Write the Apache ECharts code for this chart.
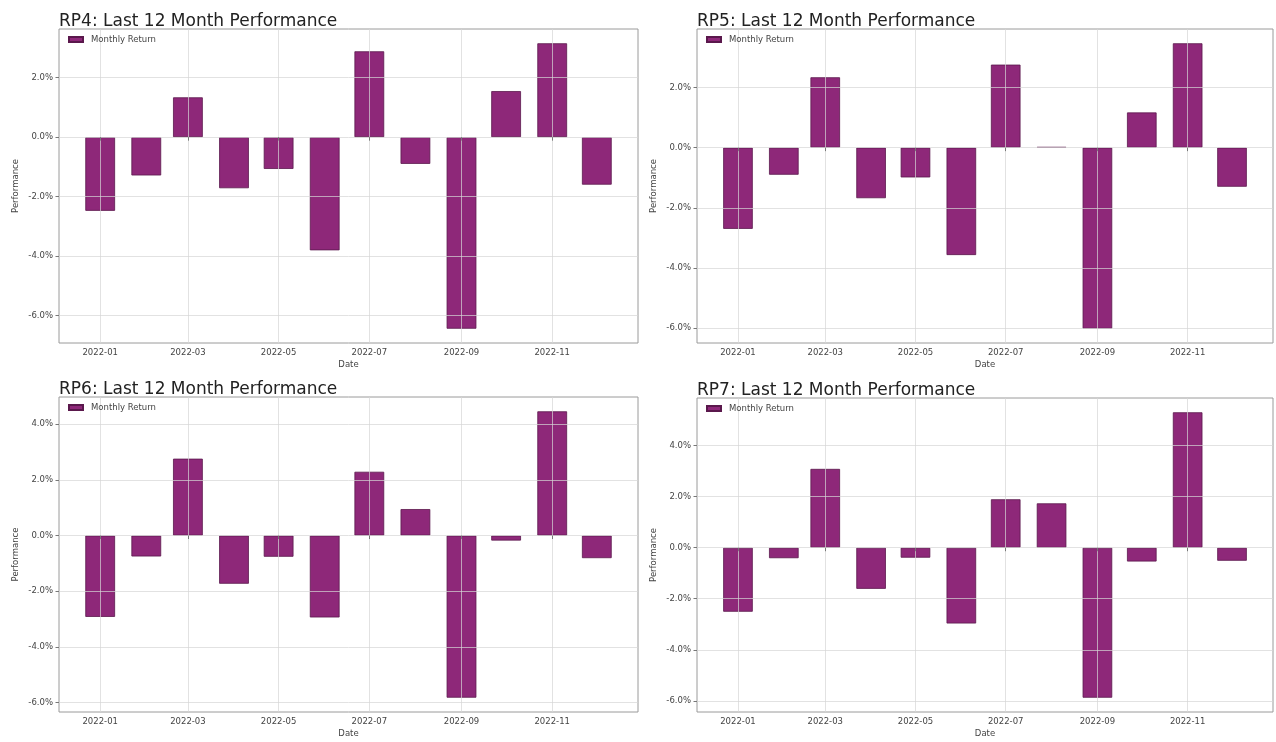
<!DOCTYPE html>
<html>
<head>
<meta charset="utf-8">
<script src="https://cdn.jsdelivr.net/npm/echarts@6/dist/echarts.min.js"></script>
<style>
html,body{margin:0;padding:0;background:#fff;}
#chart{width:1276px;height:742px;}
</style>
</head>
<body>
<div id="chart"></div>
<script>
// ---- data ----
const months = ['2022-01-01','2022-02-01','2022-03-01','2022-04-01','2022-05-01','2022-06-01',
                '2022-07-01','2022-08-01','2022-09-01','2022-10-01','2022-11-01','2022-12-01'];
const xTickDates = ['2022-01-01','2022-03-01','2022-05-01','2022-07-01','2022-09-01','2022-11-01'];
const titles = ['RP4: Last 12 Month Performance','RP5: Last 12 Month Performance',
                'RP6: Last 12 Month Performance','RP7: Last 12 Month Performance'];
const seriesName = 'Monthly Return';
const rp4Returns = [-2.48,-1.29,1.34,-1.72,-1.07,-3.81,2.89,-0.90,-6.45,1.55,3.16,-1.60];
const rp5Returns = [-2.70,-0.90,2.34,-1.68,-0.99,-3.57,2.76,0.02,-6.02,1.17,3.47,-1.30];
const rp6Returns = [-2.92,-0.75,2.76,-1.73,-0.76,-2.94,2.29,0.95,-5.82,-0.18,4.46,-0.81];
const rp7Returns = [-2.51,-0.41,3.09,-1.61,-0.39,-2.97,1.90,1.74,-5.88,-0.54,5.31,-0.51];
const rp4YTicks = [-6,-4,-2,0,2];
const rp5YTicks = [-6,-4,-2,0,2];
const rp6YTicks = [-6,-4,-2,0,2,4];
const rp7YTicks = [-6,-4,-2,0,2,4];

// ---- layout / style ----
const DAY = 86400000;
const BAR_DAYS = 20;
const panels = [
  {vals: rp4Returns, ticks: rp4YTicks, left: 59,  top: 29,  width: 579, height: 314},
  {vals: rp5Returns, ticks: rp5YTicks, left: 697, top: 29,  width: 576, height: 314},
  {vals: rp6Returns, ticks: rp6YTicks, left: 59,  top: 397, width: 579, height: 315},
  {vals: rp7Returns, ticks: rp7YTicks, left: 697, top: 398, width: 576, height: 314}
];
const FONT = 'DejaVu Sans';
const barColor = '#8e2879';
const barEdge = '#5a184c';
const gridColor = 'rgba(214,214,214,0.7)';
const labelColor = '#444';

function ts(s){ const p = s.split('-').map(Number); return Date.UTC(p[0], p[1]-1, p[2]); }
function fmtMonth(v){ const d = new Date(v); return d.getUTCFullYear() + '-' + String(d.getUTCMonth()+1).padStart(2,'0'); }

const monthTs = months.map(ts);
const xTickTs = xTickDates.map(ts);
const half = BAR_DAYS * DAY / 2;
const xLo = monthTs[0] - half, xHi = monthTs[monthTs.length-1] + half;
const xMin = xLo - 0.05 * (xHi - xLo), xMax = xHi + 0.05 * (xHi - xLo);

const option = {
  animation: false,
  backgroundColor: '#fff',
  title: [], grid: [], xAxis: [], yAxis: [], series: [], legend: []
};

panels.forEach((p, i) => {
  const lo = Math.min(0, ...p.vals), hi = Math.max(0, ...p.vals);
  const yMin = lo - 0.05 * (hi - lo), yMax = hi + 0.05 * (hi - lo);
  const barPx = p.width * (BAR_DAYS * DAY) / (xMax - xMin);

  option.title.push({
    text: titles[i], left: p.left, top: p.top - 16, padding: 0,
    textStyle: {fontFamily: FONT, fontSize: 17, fontWeight: 'normal', color: '#222'}
  });
  option.grid.push({
    left: p.left, top: p.top, width: p.width, height: p.height,
    show: true, borderColor: '#9a9a9a', borderWidth: 1, backgroundColor: 'transparent'
  });
  option.legend.push({
    data: [seriesName], left: p.left + 9, top: p.top + 6, padding: 0,
    icon: 'rect', itemWidth: 14, itemHeight: 5, itemGap: 6,
    textStyle: {fontFamily: FONT, fontSize: 8.5, color: labelColor, padding: [0, 0, 0, 3]},
    selectedMode: false
  });
  option.xAxis.push({
    type: 'value', gridIndex: i, min: xMin, max: xMax, z: 3, scale: true,
    name: 'Date', nameLocation: 'middle', nameGap: 17,
    nameTextStyle: {fontFamily: FONT, fontSize: 8.5, color: labelColor},
    axisLine: {show: false},
    axisTick: {show: true, customValues: xTickTs, length: 3.5, lineStyle: {color: '#777'}},
    axisLabel: {customValues: xTickTs, formatter: fmtMonth, fontFamily: FONT, fontSize: 8.5,
                color: labelColor, margin: 5, hideOverlap: false, showMinLabel: true, showMaxLabel: true},
    splitLine: {show: true, lineStyle: {color: gridColor, width: 1}}
  });
  option.yAxis.push({
    type: 'value', gridIndex: i, min: yMin, max: yMax, z: 3,
    name: 'Performance', nameLocation: 'middle', nameGap: 39,
    nameTextStyle: {fontFamily: FONT, fontSize: 8.5, color: labelColor},
    axisLine: {show: false},
    axisTick: {show: true, customValues: p.ticks, length: 3.5, lineStyle: {color: '#777'}},
    axisLabel: {customValues: p.ticks, formatter: v => v.toFixed(1) + '%', fontFamily: FONT,
                fontSize: 8.5, color: labelColor, margin: 6},
    splitLine: {show: true, lineStyle: {color: gridColor, width: 1}}
  });
  option.series.push({
    name: seriesName, type: 'bar', xAxisIndex: i, yAxisIndex: i,
    barWidth: barPx, z: 2,
    itemStyle: {color: barColor, borderColor: barEdge, borderWidth: 0.8},
    data: monthTs.map((t, k) => [t, p.vals[k]])
  });
});

const chart = echarts.init(document.getElementById('chart'), null, {renderer: 'canvas'});
chart.setOption(option);
</script>
</body>
</html>
